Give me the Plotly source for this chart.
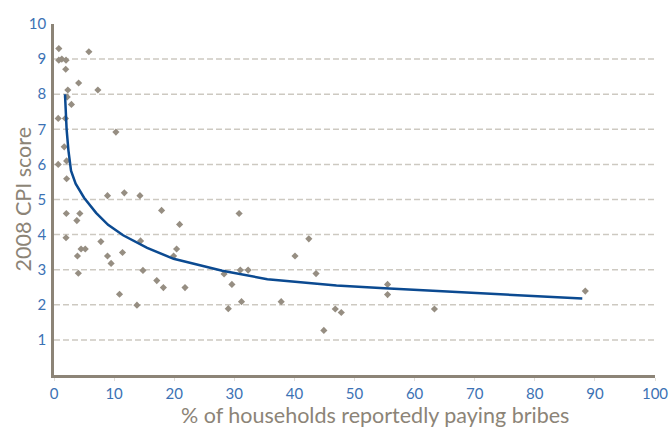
import plotly.graph_objects as go

# Scatter data: % households paying bribes vs 2008 CPI score
bribes = [0.8, 0.8, 1.3, 2.0, 1.95, 5.8, 4.1, 2.3, 7.3, 2.2, 2.9, 0.7, 1.9, 10.3,
          1.7, 0.7, 2.1, 2.1, 8.9, 11.7, 14.3, 2.05, 4.3, 3.8, 2.0, 7.8, 14.4,
          4.5, 5.2, 3.9, 8.9, 9.5, 11.4, 4.05, 14.8, 10.9, 13.8,
          17.9, 20.9, 20.4, 19.9, 17.1, 18.2, 21.8, 28.3, 31.0, 32.3, 29.6, 29.0,
          31.2, 30.8, 42.4, 40.1, 43.6, 37.8, 46.8, 47.8, 44.9, 55.5, 55.5, 63.3, 88.4]
cpi = [9.3, 8.97, 9.0, 8.97, 8.71, 9.21, 8.32, 8.12, 8.12, 7.92, 7.71, 7.31, 7.31, 6.92,
       6.5, 6.0, 6.1, 5.59, 5.11, 5.19, 5.11, 4.6, 4.6, 4.4, 3.91, 3.8, 3.82,
       3.59, 3.59, 3.39, 3.39, 3.18, 3.49, 2.9, 2.98, 2.3, 1.99,
       4.69, 4.29, 3.59, 3.39, 2.69, 2.49, 2.49, 2.88, 2.99, 2.99, 2.58, 1.89,
       2.09, 4.6, 3.88, 3.39, 2.89, 2.09, 1.88, 1.78, 1.27, 2.58, 2.29, 1.88, 2.39]

# Trend line
trend_x = [1.83, 2.1, 2.4, 2.83, 3.6, 5.0, 7.0, 9.0, 11.5, 15.5, 19.9, 28.0, 35.5, 47.0, 55.0, 70.0, 87.9]
trend_y = [8.0, 7.0, 6.4, 5.82, 5.45, 5.05, 4.62, 4.28, 3.98, 3.62, 3.31, 2.97, 2.73, 2.55, 2.47, 2.33, 2.18]

x_ticks = [0, 10, 20, 30, 40, 50, 60, 70, 80, 90, 100]
y_ticks = [1, 2, 3, 4, 5, 6, 7, 8, 9, 10]
grid_levels = [1, 2, 3, 4, 5, 6, 7, 8, 9]

x_title = "% of households reportedly paying bribes"
y_title = "2008 CPI score"

axis_col = "#8c8477"
label_col = "#3c72b4"
grid_col = "#cdc9c1"

fig = go.Figure()
fig.add_trace(go.Scatter(x=bribes, y=cpi, mode="markers",
                         marker=dict(symbol="diamond", size=5.5, color="#968e82"),
                         hoverinfo="x+y", showlegend=False))
fig.add_trace(go.Scatter(x=trend_x, y=trend_y, mode="lines",
                         line=dict(color="#0b4a91", width=2.5), showlegend=False))

for g in grid_levels:
    fig.add_shape(type="line", xref="x", yref="y", x0=0, x1=100.7, y0=g, y1=g,
                  line=dict(color=grid_col, width=1.5, dash="6px,3px"), layer="below")

# Axis titles as annotations for precise placement
fig.add_annotation(text=x_title, xref="paper", yref="paper", x=0.534, y=0,
                   yshift=-40, xanchor="center", yanchor="middle", showarrow=False,
                   font=dict(size=21.5, color=axis_col))
fig.add_annotation(text=y_title, xref="paper", yref="paper", x=0, y=0.5,
                   xshift=-32, xanchor="center", yanchor="middle", showarrow=False,
                   textangle=-90, font=dict(size=21.5, color=axis_col))

fig.update_layout(
    width=670, height=432,
    margin=dict(l=54, r=15, t=24, b=57),
    paper_bgcolor="white", plot_bgcolor="white",
    font=dict(family="Lato, Open Sans, sans-serif"),
    xaxis=dict(range=[0, 100], tickvals=x_ticks, showgrid=False, zeroline=False,
               automargin=False, ticklabeloverflow="allow",
               showline=True, linecolor=axis_col, linewidth=2.5,
               ticks="outside", ticklen=3, tickcolor="#e0ddd7",
               tickfont=dict(size=15, color=label_col)),
    yaxis=dict(range=[0, 10], tickvals=y_ticks, showgrid=False, zeroline=False,
               automargin=False, ticklabelstandoff=2,
               showline=True, linecolor=axis_col, linewidth=2.5,
               ticks="", tickfont=dict(size=15, color=label_col)),
)

# Remove the browser's default 8px body margin so the figure fills the window exactly
page_css = ("document.body.style.margin='0';"
            "document.documentElement.style.overflow='hidden';"
            "document.body.style.overflow='hidden';")

fig.write_html("out.html", post_script=page_css, config={"displayModeBar": False})
